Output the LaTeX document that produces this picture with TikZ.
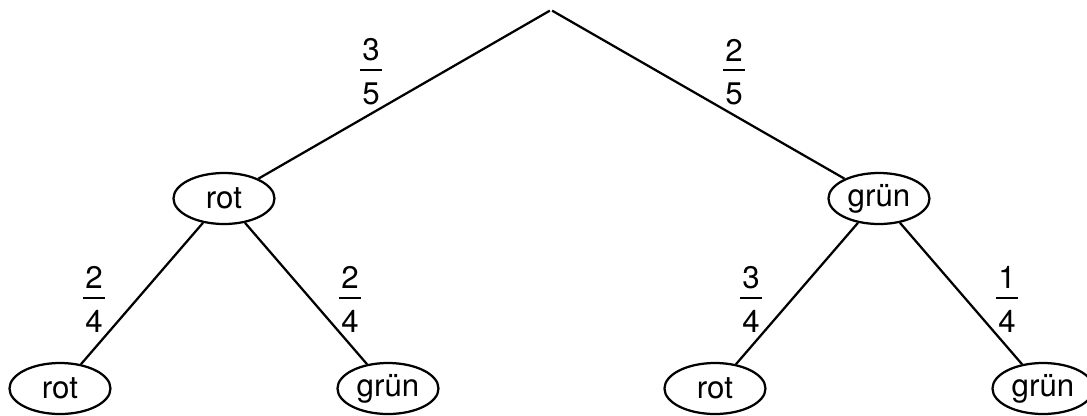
\documentclass[tikz,border=0pt]{standalone}
\usepackage{fontspec}
\setmainfont{TeX Gyre Heros}
\usetikzlibrary{positioning}
\usetikzlibrary{shapes.geometric}

\newcommand{\bruch}[2]{$\vcenter{\hbox to 8.8pt{\hss#1\hss}\kern3.2pt\hrule height 0.8pt\kern4.8pt\hbox to 8.8pt{\hss#2\hss}}$}

\begin{document}
\begin{tikzpicture}[line width=0.9pt, on grid, font=\fontsize{12.5}{15}\selectfont,
    knoten/.style={ellipse, draw, minimum width=40.4pt, minimum height=20.4pt, inner sep=0pt},
    wkeit/.style={inner sep=0pt}]

    \useasboundingbox (-220.4pt,4pt) rectangle (214.4pt,-162.4pt);

    % Nodes

    \node[inner sep=0pt, minimum size=0pt] (start) at (0,0) {};
    \node[knoten, below left=75.4pt and 130.8pt of start]  (r)  {rot}; %
    \node[knoten, below right=75.4pt and 131.2pt of start] (g)  {grün}; %

    \draw (start) -- (r);
    \draw (start) -- (g);

    % Second level
    \node[knoten, below left=76pt and 65.6pt of r]  (rr) {rot}; %
    \node[knoten, below right=76pt and 65.6pt of r] (rg) {grün}; %
    \node[knoten, below left=76pt and 65.6pt of g]  (gr) {rot}; %
    \node[knoten, below right=76pt and 65.6pt of g] (gg) {grün}; %

    \draw (r) -- (rr);
    \draw (r) -- (rg);
    \draw (g) -- (gr);
    \draw (g) -- (gg);

    % Probabilities
    \node[wkeit, below left=24.8pt and 72pt of start]  (p35) {\bruch{3}{5}}; %
    \node[wkeit, below right=24.8pt and 73.2pt of start] (p25) {\bruch{2}{5}}; %
    \node[wkeit, below left=40.4pt and 52pt of r]    (p24a) {\bruch{2}{4}}; %
    \node[wkeit, below right=40.4pt and 50.4pt of r] (p24b) {\bruch{2}{4}}; %
    \node[wkeit, below left=40.4pt and 51.2pt of g]  (p34)  {\bruch{3}{4}}; %
    \node[wkeit, below right=40.4pt and 51.2pt of g] (p14)  {\bruch{1}{4}}; %

\end{tikzpicture}
\end{document}
